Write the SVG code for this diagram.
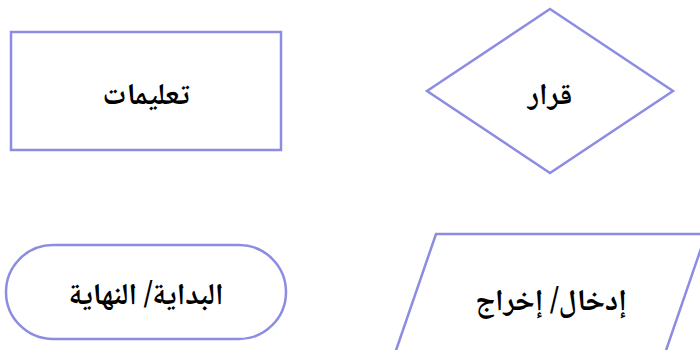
<svg xmlns="http://www.w3.org/2000/svg" width="700" height="350" viewBox="0 0 700 350">
<style>
.shape{fill:#ffffff;stroke:#8c8ce2;stroke-width:2.5}
.lbl{font-family:"Noto Naskh Arabic","Liberation Serif","DejaVu Sans",serif;font-size:30px;font-weight:bold;fill:#000;text-anchor:middle}
</style>
<rect width="700" height="350" fill="#ffffff"/>
<g id="connectors"></g>
<g id="process">
<rect class="shape" x="11" y="32" width="270" height="118"/>
<text class="lbl" x="146" y="104" direction="rtl">تعليمات</text>
</g>
<g id="decision">
<polygon class="shape" points="550,9 673,91 550,173 427,91"/>
<text class="lbl" x="550" y="104" direction="rtl">قرار</text>
</g>
<g id="terminal">
<rect class="shape" x="6" y="245" width="280" height="94" rx="47" ry="47"/>
<text class="lbl" x="146" y="304" direction="rtl">البداية/ النهاية</text>
</g>
<g id="io">
<polygon class="shape" points="436,234 706,234 662,362 392,362"/>
<text class="lbl" x="551" y="310" direction="rtl">إدخال/ إخراج</text>
</g>
</svg>
